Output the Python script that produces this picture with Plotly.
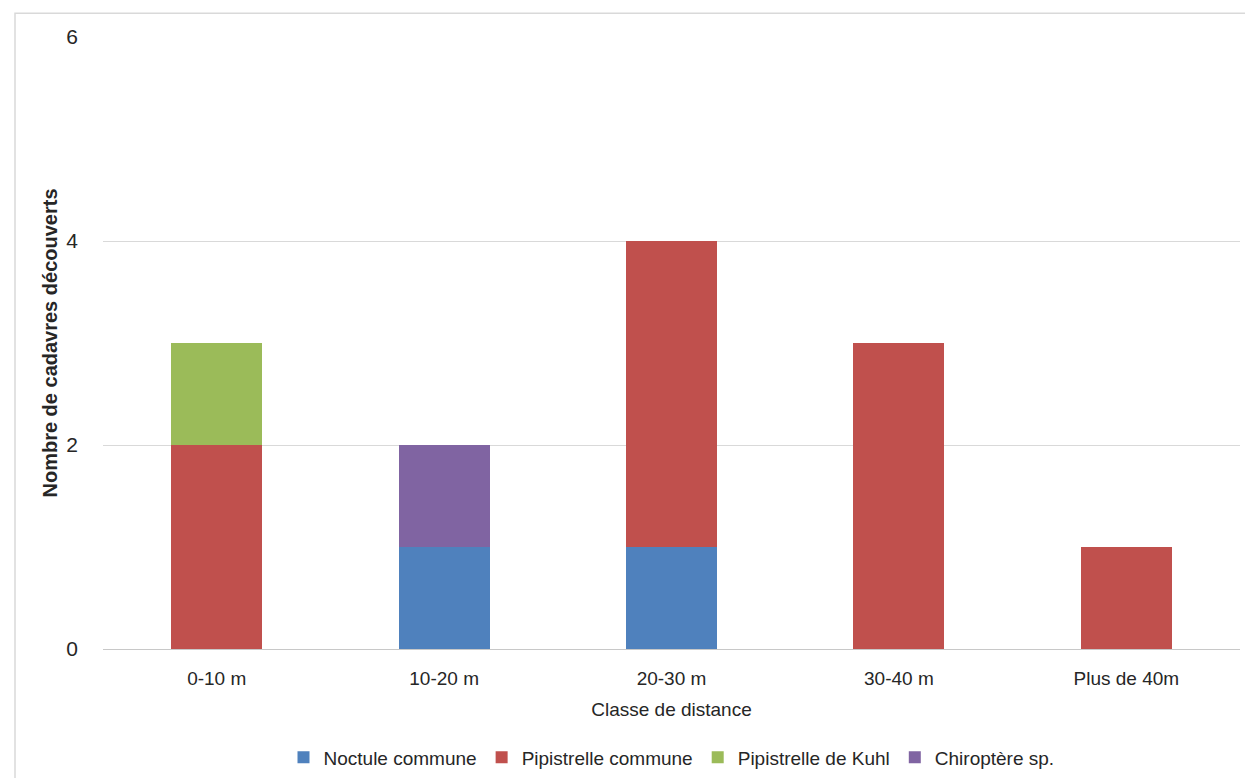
import plotly.graph_objects as go

# Distance classes from the turbine and carcass counts per species
classes = ["0-10 m", "10-20 m", "20-30 m", "30-40 m", "Plus de 40m"]
noctule_commune = [0, 1, 1, 0, 0]
pipistrelle_commune = [2, 0, 3, 3, 1]
pipistrelle_kuhl = [1, 0, 0, 0, 0]
chiroptere_sp = [0, 1, 0, 0, 0]

series = [
    ("Noctule commune", noctule_commune, "#4f81bd"),
    ("Pipistrelle commune", pipistrelle_commune, "#c0504d"),
    ("Pipistrelle de Kuhl", pipistrelle_kuhl, "#9bbb59"),
    ("Chiroptère sp.", chiroptere_sp, "#8064a2"),
]

FONT = "Liberation Sans, Arial, sans-serif"

fig = go.Figure()
for name, vals, color in series:
    fig.add_trace(go.Bar(
        x=classes, y=vals, name=name,
        marker=dict(color=color, line=dict(width=0)),
    ))

fig.update_layout(
    barmode="stack",
    bargap=0.6,
    width=1245, height=778,
    margin=dict(l=103, r=5, t=37, b=129, autoexpand=False),
    paper_bgcolor="white",
    plot_bgcolor="white",
    font=dict(family=FONT, color="#262626", size=18),
    showlegend=True,
    legend=dict(
        orientation="h", x=0.5, xanchor="center", y=-0.146, yanchor="top",
        font=dict(size=19, family=FONT),
        traceorder="normal",
    ),
    xaxis=dict(
        title=dict(text="Classe de distance", font=dict(size=19), standoff=14),
        tickfont=dict(size=19),
        showline=True, linecolor="#c8c8c8", linewidth=1,
        ticks="", ticklabelstandoff=12, automargin=False,
    ),
    yaxis=dict(
        title=dict(text="<b>Nombre de cadavres découverts</b>", font=dict(size=20), standoff=3),
        range=[0, 6], tickvals=[0, 2, 4, 6],
        tickfont=dict(size=21),
        gridcolor="#d9d9d9", gridwidth=1,
        zeroline=False, ticks="", ticklen=0,
        ticklabelstandoff=24, automargin=False,
    ),
    shapes=[dict(
        type="rect", xref="paper", yref="paper",
        x0=-0.0774, x1=1.01, y0=-0.3, y1=1.039,
        line=dict(color="#d9d9d9", width=1.5), fillcolor="rgba(0,0,0,0)",
        layer="below",
    )],
)

fig.write_html("out.html")
